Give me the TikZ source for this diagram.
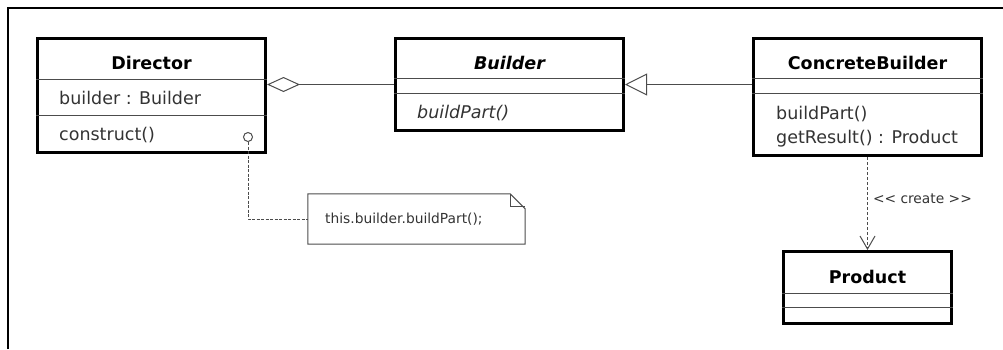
\documentclass[tikz,border=0pt]{standalone}
\usepackage{fontspec}
\setmainfont{DejaVu Sans}
\usetikzlibrary{arrows.meta,calc,positioning}
\definecolor{linegray}{gray}{0.3}
\definecolor{textgray}{gray}{0.2}

\begin{document}
\begin{tikzpicture}[x=1pt, y=-1pt,
    classbox/.style={draw, line width=3pt, inner sep=0pt, minimum width=228pt},
    divider/.style={draw=linegray, line width=1pt},
    member/.style={anchor=base west, inner sep=0pt, text=textgray, font=\fontsize{17.5}{20}\selectfont},
    title/.style={anchor=base, inner sep=0pt, font=\fontsize{17.5}{20}\selectfont\bfseries},
    small/.style={inner sep=0pt, text=textgray, font=\fontsize{13.8}{16}\selectfont},
    link/.style={draw=linegray, line width=1pt}]
\useasboundingbox (0,0) rectangle (1003,349);
            % frame (cut on the right and bottom)
            \draw[line width=2pt] (8,349) -- (8,8) -- (1003,8);

            % classes
            \node[classbox, minimum height=114pt] (director) at (151.5,95.5) {};
            \node[classbox, minimum height=92pt] (builder) at (509.5,84.5) {};
            \node[classbox, minimum height=117pt] (concrete) at (867.5,97) {};
            \node[classbox, minimum width=168pt, minimum height=72pt] (product) at (867.5,287.5) {};
            \foreach \cls/\off in {director/42.5, director/78.5, builder/41.5, builder/56.5,
                                   concrete/41.5, concrete/56.5, product/43.5, product/57.5} {
                \draw[divider] ($(\cls.north west)+(0,\off)$) -- ($(\cls.north east)+(0,\off)$);
            }

            % titles
            \node[title] (directorname) at (151.5,69) {Director};
            \node[title, font=\fontsize{17.5}{20}\selectfont\bfseries\itshape] (buildername) at (509.5,69) {Builder};
            \node[title] (concretename) at (867.5,69) {ConcreteBuilder};
            \node[title] (productname) at (867.5,283) {Product};

            % members
            \node[member] (field) at (59,104) {builder : Builder};
            \node[member] (construct) at (59,140) {construct()};
            \node[member, font=\fontsize{17.5}{20}\selectfont\itshape] (abstractpart) at (417,118) {buildPart()};
            \node[member] (buildpart) at (776,119) {buildPart()};
            \node[member] (getresult) at (776,143) {getResult() : Product};

            % relations
            \draw[link, -{Diamond[open, length=33pt, width=15pt]}] (builder.west) -- (director.east |- builder.west);
            \draw[link, -{Triangle[open, length=22pt, width=22pt]}] (concrete.west |- builder.west) -- (builder.east);
            \draw[link, dash pattern=on 3pt off 2pt, -{Straight Barb[length=13pt, width=15pt]}] (concrete.south) -- (product.north)
                node[small, pos=0.45, right=5pt] (create) {\mbox{<}\mbox{<} create \mbox{>}\mbox{>}};

            % note on construct()
            \node[draw=linegray, line width=1pt, circle, fill=white, inner sep=0pt, minimum size=9pt] (hook) at (248,137) {};
            \node[inner sep=0pt, minimum width=217pt, minimum height=50pt] (note) at (416.5,219) {};
            \draw[draw=linegray, line width=1pt] (note.north west) -- ($(note.north east)+(-15,0)$) -- ($(note.north east)+(0,15)$)
                -- (note.south east) -- (note.south west) -- cycle;
            \draw[draw=linegray, line width=1pt] ($(note.north east)+(-15,0)$) |- ($(note.north east)+(0,13)$);
            \node[small, anchor=base west] (notetext) at (325,223) {this.builder.buildPart();};
            \draw[link, dash pattern=on 3pt off 1.5pt] (hook.south) |- (note.west);
        \end{tikzpicture}
\end{document}
